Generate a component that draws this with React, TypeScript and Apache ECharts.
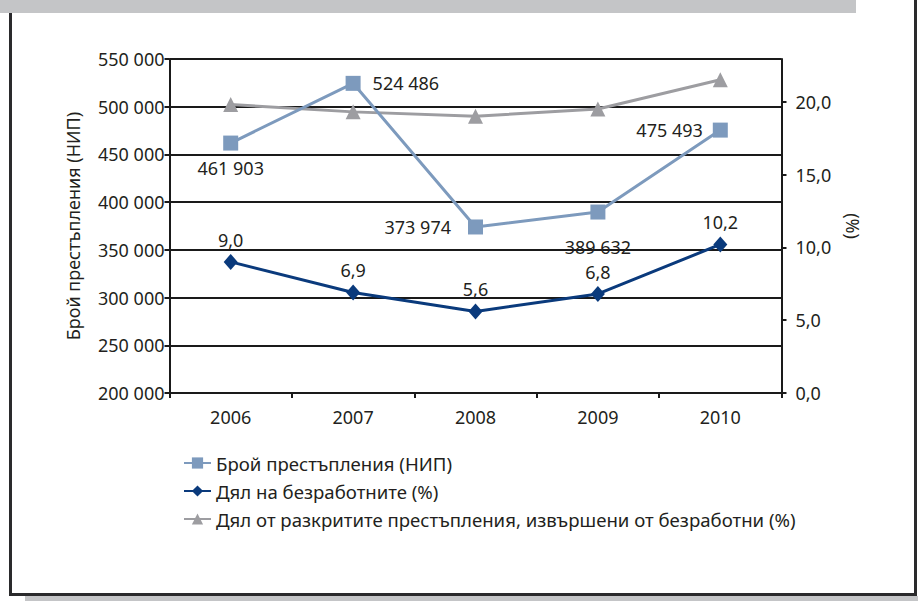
import React, { useEffect, useRef } from "react";
import * as echarts from "echarts";

const years = ["2006", "2007", "2008", "2009", "2010"];
const crimes = [461903, 524486, 373974, 389632, 475493];
const unemployed = [9.0, 6.9, 5.6, 6.8, 10.2];
const solvedByUnemployed = [19.8, 19.3, 19.0, 19.5, 21.5];

const crimeName = "Брой престъпления (НИП)";
const unemployedName = "Дял на безработните (%)";
const solvedName = "Дял от разкритите престъпления, извършени от безработни (%)";

const leftTicks = { min: 200000, max: 550000, interval: 50000 };
const rightTicks = { min: 0, max: 22.93, interval: 5 };

// label placement for crime series (style only)
const crimeLabelPos = ["bottom", "right", "left", "bottom", "left"];
const crimeLabelDist = [8, 12, 17, 18, 10];

const FONT = "Noto Sans";
const TXT = "#231f20";
const FS = 18;

function fmtThousands(v: number): string {
  return String(Math.round(v)).replace(/\B(?=(\d{3})+(?!\d))/g, " ");
}
function fmtDec(v: number): string {
  return v.toFixed(1).replace(".", ",");
}

export default function App() {
  const ref = useRef<HTMLDivElement>(null);
  useEffect(() => {
    if (!ref.current) return;
    const chart = echarts.init(ref.current, undefined, { renderer: "svg" });
    chart.setOption({
      animation: false,
      backgroundColor: "#ffffff",
      textStyle: { fontFamily: FONT, color: TXT },
      graphic: [
        { type: "rect", shape: { x: 0, y: 0, width: 856, height: 13 }, style: { fill: "#c4c5c7" } },
        { type: "rect", shape: { x: 25, y: 596, width: 893, height: 5 }, style: { fill: "#c4c5c7" } },
        { type: "line", shape: { x1: 10.5, y1: 13, x2: 10.5, y2: 595 }, style: { stroke: "#2a2a2c", lineWidth: 3 } },
        { type: "line", shape: { x1: 915.5, y1: 0, x2: 915.5, y2: 595 }, style: { stroke: "#2a2a2c", lineWidth: 3 } },
        { type: "line", shape: { x1: 9, y1: 594.5, x2: 917, y2: 594.5 }, style: { stroke: "#2a2a2c", lineWidth: 3 } },
      ],
      legend: {
        orient: "vertical",
        left: 183,
        top: 453,
        padding: 0,
        itemWidth: 27,
        itemHeight: 14,
        itemGap: 8,
        textStyle: { fontFamily: FONT, fontSize: 18.6, color: TXT, lineHeight: 20 },
        data: [crimeName, unemployedName, solvedName],
      },
      grid: { left: 169.5, right: 136.5, top: 59, bottom: 208, containLabel: false },
      xAxis: {
        type: "category",
        data: years,
        boundaryGap: true,
        axisLine: { lineStyle: { color: "#1a1a1a", width: 2 } },
        axisTick: { show: true, length: 5, lineStyle: { color: "#1a1a1a", width: 2 } },
        axisLabel: { fontFamily: FONT, fontSize: FS, color: TXT, margin: 15 },
      },
      yAxis: [
        {
          type: "value",
          min: leftTicks.min,
          max: leftTicks.max,
          interval: leftTicks.interval,
          name: crimeName,
          nameLocation: "middle",
          nameGap: 88,
          nameTextStyle: { fontFamily: FONT, fontSize: FS, color: TXT },
          axisLine: { show: true, lineStyle: { color: "#1a1a1a", width: 2 } },
          axisTick: { show: true, length: 5, lineStyle: { color: "#1a1a1a", width: 2 } },
          axisLabel: { fontFamily: FONT, fontSize: FS, color: TXT, margin: 5, formatter: fmtThousands },
          splitLine: { show: true, lineStyle: { color: "#1a1a1a", width: 2 } },
        },
        {
          type: "value",
          min: rightTicks.min,
          max: rightTicks.max,
          interval: rightTicks.interval,
          position: "right",
          name: "(%)",
          nameLocation: "middle",
          nameRotate: -90,
          nameGap: 62,
          nameTextStyle: { fontFamily: FONT, fontSize: FS, color: TXT },
          axisLine: { show: true, lineStyle: { color: "#1a1a1a", width: 2 } },
          axisTick: { show: true, length: 5, lineStyle: { color: "#1a1a1a", width: 2 } },
          axisLabel: { fontFamily: FONT, fontSize: FS, color: TXT, margin: 14, formatter: fmtDec, showMaxLabel: false },
          splitLine: { show: false },
        },
      ],
      series: [
        {
          name: crimeName,
          type: "line",
          yAxisIndex: 0,
          symbol: "rect",
          symbolSize: 15,
          lineStyle: { color: "#7d9abd", width: 3 },
          itemStyle: { color: "#7d9abd" },
          data: crimes.map((v, i) => ({
            value: v,
            label: { position: crimeLabelPos[i], distance: crimeLabelDist[i] },
          })),
          label: {
            show: true,
            fontFamily: FONT,
            fontSize: FS,
            color: TXT,
            formatter: (p: any) => fmtThousands(p.value),
          },
          z: 3,
        },
        {
          name: unemployedName,
          type: "line",
          yAxisIndex: 1,
          symbol: "diamond",
          symbolSize: [14, 16],
          lineStyle: { color: "#0a3a7c", width: 3 },
          itemStyle: { color: "#0a3a7c" },
          data: unemployed,
          label: {
            show: true,
            position: "top",
            distance: 5,
            fontFamily: FONT,
            fontSize: FS,
            color: TXT,
            formatter: (p: any) => fmtDec(p.value),
          },
          z: 4,
        },
        {
          name: solvedName,
          type: "line",
          yAxisIndex: 1,
          symbol: "triangle",
          symbolSize: 15,
          lineStyle: { color: "#9d9da1", width: 3 },
          itemStyle: { color: "#9d9da1" },
          data: solvedByUnemployed,
          z: 2,
        },
      ],
    });
    return () => chart.dispose();
  }, []);
  return <div ref={ref} style={{ position: "fixed", left: 0, top: 0, width: 918, height: 601 }} />;
}
